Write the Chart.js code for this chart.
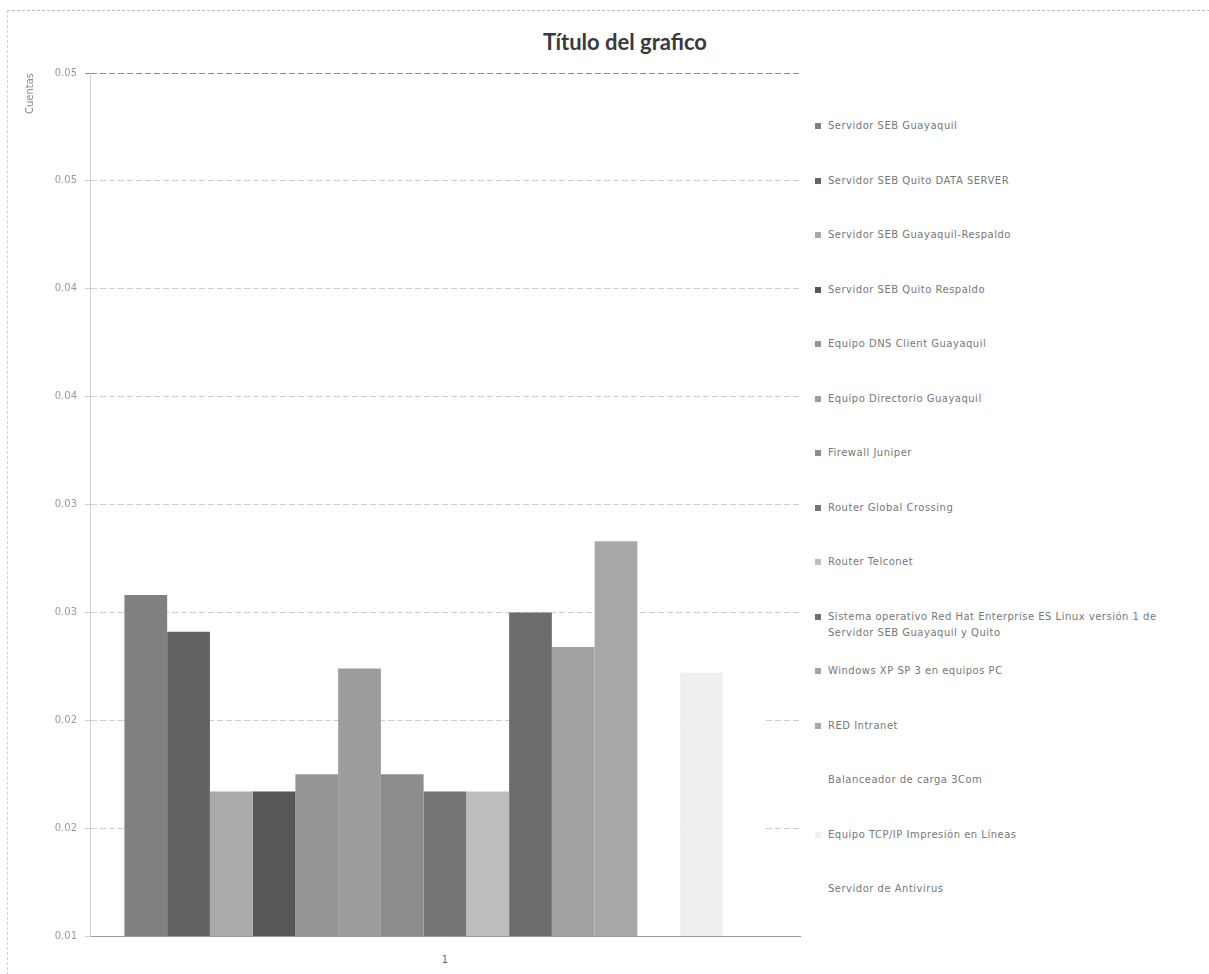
<!DOCTYPE html>
<html>
<head>
<meta charset="utf-8">
<script src="https://cdn.jsdelivr.net/npm/chart.js@4/dist/chart.umd.min.js"></script>
<style>
    html, body { margin: 0; padding: 0; background: #fff; }
    #frame {
        position: absolute; left: 7px; top: 10px; width: 1202px; height: 964px;
        border-top: 1px dashed #bdbdbd; border-left: 1px dashed #d0d0d0;
    }
    #title {
        position: absolute; left: 0; width: 1250px; top: 28px;
        text-align: center; font: bold 22px Lato, sans-serif; color: #3a3a3a;
    }
    #wrap { position: absolute; left: 0; top: 0; width: 810px; height: 974px; }
    #legend { position: absolute; left: 815px; top: 118px; width: 385px; }
    .item {
        height: 54.5px; display: flex; align-items: flex-start;
        font: 10px "DejaVu Sans", sans-serif; color: #777; line-height: 16px;
        letter-spacing: 0.5px;
    }
    .item i { flex: none; width: 6px; height: 6px; margin: 5px 7px 0 0; }
</style>
</head>
<body>
<div id="frame"></div>
<div id="title">Título del grafico</div>
<div id="wrap"><canvas id="chart"></canvas></div>
<div id="legend"></div>
<script>
// Datos
const categories = ['1'];
const seriesNames = [
    'Servidor SEB Guayaquil',
    'Servidor SEB Quito DATA SERVER',
    'Servidor SEB Guayaquil-Respaldo',
    'Servidor SEB Quito Respaldo',
    'Equipo DNS Client Guayaquil',
    'Equipo Directorio Guayaquil',
    'Firewall Juniper',
    'Router Global Crossing',
    'Router Telconet',
    'Sistema operativo Red Hat Enterprise ES Linux versión 1 de Servidor SEB Guayaquil y Quito',
    'Windows XP SP 3 en equipos PC',
    'RED Intranet',
    'Balanceador de carga 3Com',
    'Equipo TCP/IP Impresión en Líneas',
    'Servidor de Antivirus'
];
const seriesValues = [0.0258, 0.0241, 0.0167, 0.0167, 0.0175, 0.0224, 0.0175, 0.0167,
                      0.0167, 0.0250, 0.0234, 0.0283, 0.0222, 0.0222, 0.0222];
const seriesColors = ['#808080', '#636363', '#aaaaaa', '#575757', '#959595', '#9c9c9c',
                      '#8d8d8d', '#767676', '#bdbdbd', '#6d6d6d', '#a3a3a3', '#a8a8a8',
                      '#ffffff', '#efefef', '#ffffff'];
const tickLabels = ['0.01', '0.02', '0.02', '0.03', '0.03', '0.04', '0.04', '0.05', '0.05'];
const yTitle = 'Cuentas';

// Leyenda en HTML (una etiqueta ocupa dos líneas)
const legend = document.getElementById('legend');
seriesNames.forEach((name, i) => {
    const row = document.createElement('div');
    row.className = 'item';
    const box = document.createElement('i');
    box.style.background = seriesColors[i];
    const txt = document.createElement('span');
    txt.textContent = name;
    row.appendChild(box);
    row.appendChild(txt);
    legend.appendChild(row);
});

const datasets = seriesNames.map((name, i) => ({
    label: name,
    data: [seriesValues[i]],
    backgroundColor: seriesColors[i],
    borderWidth: 0,
    barPercentage: 1.0,
    categoryPercentage: 0.903
}));

new Chart(document.getElementById('chart'), {
    type: 'bar',
    data: { labels: categories, datasets: datasets },
    options: {
        responsive: true,
        maintainAspectRatio: false,
        animation: false,
        layout: { padding: { top: 73, left: 24, right: 10, bottom: 0 } },
        plugins: {
            legend: { display: false },
            tooltip: { enabled: false }
        },
        scales: {
            x: {
                grid: { display: false },
                border: { color: '#9a9a9a' },
                ticks: { font: { size: 10, family: 'DejaVu Sans' }, color: '#666', padding: 10 },
                afterFit: (scale) => { scale.height = 38; }
            },
            y: {
                min: 0.01,
                max: 0.05,
                ticks: {
                    stepSize: 0.005,
                    font: { size: 10, family: 'DejaVu Sans' },
                    color: '#9a9a9a',
                    padding: 8,
                    callback: (value, index) => tickLabels[index]
                },
                grid: {
                    color: (ctx) => (ctx.tick && Math.abs(ctx.tick.value - 0.05) < 1e-9) ? '#8c8c8c' : '#cfcfcf',
                    tickLength: 5
                },
                border: { color: '#d2d2d2', dash: [6, 3] },
                title: {
                    display: true,
                    text: yTitle,
                    align: 'end',
                    color: '#8a8a8a',
                    font: { size: 10, family: 'DejaVu Sans' },
                    padding: { top: 0, bottom: 0, y: 14 }
                },
                afterFit: (scale) => { scale.width = 66; }
            }
        }
    }
});
</script>
</body>
</html>
